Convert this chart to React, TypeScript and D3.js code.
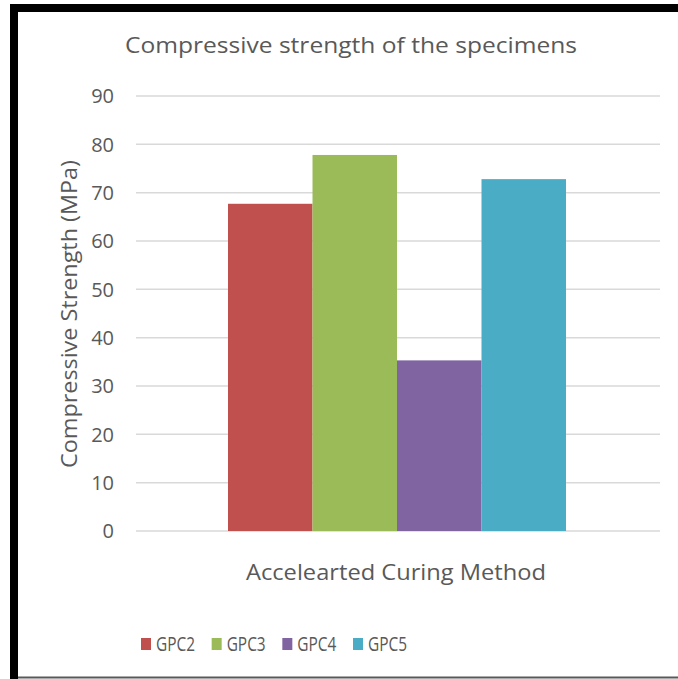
import React from "react";
import * as d3 from "d3";

const seriesNames = ["GPC2", "GPC3", "GPC4", "GPC5"];
const seriesValues = [67.7, 77.8, 35.3, 72.8];
const seriesColors = ["#C0504D", "#9BBB59", "#8064A2", "#4BACC6"];
const yTicks = [0, 10, 20, 30, 40, 50, 60, 70, 80, 90];
const categoryLabel = "Accelearted Curing Method";
const chartTitle = "Compressive strength of the specimens";
const yAxisTitle = "Compressive Strength (MPa)";

const W = 678;
const H = 679;
const FONT = "'Open Sans', Lato, sans-serif";
const TEXT = "#595959";

export default function App() {
  const plot = { left: 136, right: 660, top: 96, bottom: 531 };
  const y = d3.scaleLinear().domain([0, 90]).range([plot.bottom, plot.top]);
  const x = d3
    .scaleBand<string>()
    .domain(seriesNames)
    .range([228, 566])
    .paddingInner(0)
    .paddingOuter(0);

  const legend = d3
    .scalePoint<string>()
    .domain(seriesNames)
    .range([141, 353]);

  return (
    <svg
      width={W}
      height={H}
      style={{ position: "absolute", left: 0, top: 0, background: "#fff" }}
      fontFamily={FONT}
    >
      <rect x={0} y={0} width={W} height={H} fill="#fff" />
      {/* frame */}
      <rect x={10} y={4} width={W - 10} height={8} fill="#000" />
      <rect x={10} y={4} width={8} height={H - 4} fill="#000" />
      <rect x={18} y={676.5} width={W - 18} height={2} fill="#595959" />

      <text
        x={351}
        y={53}
        textAnchor="middle"
        fontSize={21}
        fill={TEXT}
        textLength={452}
        lengthAdjust="spacingAndGlyphs"
      >
        {chartTitle}
      </text>

      {yTicks.map((t) => (
        <g key={t}>
          <line
            x1={plot.left}
            x2={plot.right}
            y1={y(t)}
            y2={y(t)}
            stroke="#d9d9d9"
            strokeWidth={1.5}
          />
          <text
            x={114}
            y={y(t)}
            dy="0.36em"
            textAnchor="end"
            fontSize={20}
            fill={TEXT}
          >
            {t}
          </text>
        </g>
      ))}

      {seriesNames.map((s, i) => (
        <rect
          key={s}
          x={x(s)}
          y={y(seriesValues[i])}
          width={x.bandwidth()}
          height={y(0) - y(seriesValues[i])}
          fill={seriesColors[i]}
        />
      ))}

      <text
        x={396}
        y={580}
        textAnchor="middle"
        fontSize={21}
        fill={TEXT}
        textLength={300}
        lengthAdjust="spacingAndGlyphs"
      >
        {categoryLabel}
      </text>

      <text
        transform={`translate(77, 314) rotate(-90)`}
        textAnchor="middle"
        fontSize={21}
        fill={TEXT}
        textLength={308}
        lengthAdjust="spacingAndGlyphs"
      >
        {yAxisTitle}
      </text>

      {seriesNames.map((s, i) => (
        <g key={s} transform={`translate(${legend(s)}, 638)`}>
          <rect x={0} y={0} width={10} height={12} fill={seriesColors[i]} />
          <text
            x={15}
            y={13}
            fontSize={20}
            fill={TEXT}
            textLength={39}
            lengthAdjust="spacingAndGlyphs"
          >
            {s}
          </text>
        </g>
      ))}
    </svg>
  );
}
